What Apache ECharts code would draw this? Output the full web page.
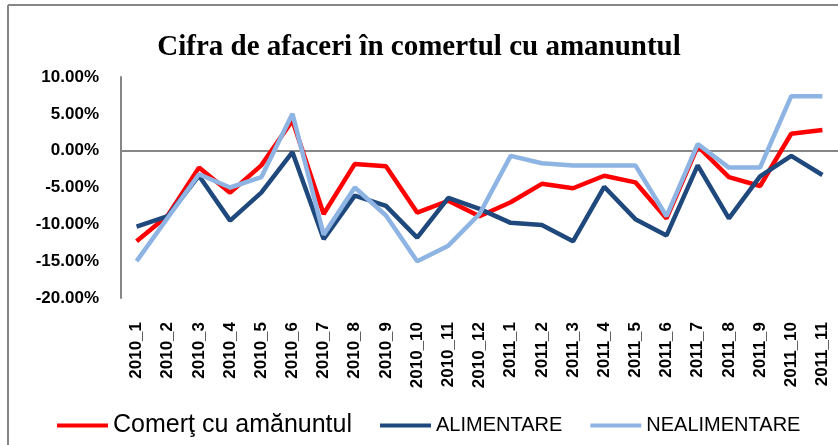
<!DOCTYPE html>
<html style="height: 100%">

<head>
  <meta charset="utf-8" />
  <title>Cifra de afaceri</title>
  <script src="https://cdn.jsdelivr.net/npm/echarts@6/dist/echarts.min.js"></script>
</head>

<body style="height: 100%; margin: 0; overflow: hidden; background: #fff">
  <div id="container" style="width: 838px; height: 445px"></div>
  <script>
    // luni
    var categories = [
      "2010_1", "2010_2", "2010_3", "2010_4", "2010_5", "2010_6", "2010_7", "2010_8",
      "2010_9", "2010_10", "2010_11", "2010_12", "2011_1", "2011_2", "2011_3", "2011_4",
      "2011_5", "2011_6", "2011_7", "2011_8", "2011_9", "2011_10", "2011_11"
    ];
    // valori in procente
    var comert = [-12.3, -8.8, -2.3, -5.7, -2.0, 4.1, -8.6, -1.8, -2.1, -8.4, -6.8, -8.9,
      -7.0, -4.5, -5.1, -3.4, -4.3, -9.2, 0.6, -3.6, -4.8, 2.3, 2.8];
    var alimentare = [-10.3, -8.9, -3.4, -9.5, -5.7, -0.2, -12.0, -6.1, -7.5, -11.8, -6.4, -7.9,
      -9.8, -10.1, -12.3, -4.9, -9.3, -11.5, -2.0, -9.2, -3.5, -0.7, -3.3];
    var nealimentare = [-15.0, -9.1, -3.2, -5.0, -3.6, 5.0, -11.4, -5.0, -8.8, -15.0, -12.9, -8.6,
      -0.7, -1.7, -2.0, -2.0, -2.0, -8.9, 0.9, -2.3, -2.3, 7.4, 7.4];
    var yTicks = { min: -20, max: 10, step: 5 };

    var myChart = echarts.init(document.getElementById("container"), null, { renderer: "canvas" });
    var gray = "#868686";
    var labelFont = "'Liberation Sans', Arial, sans-serif";

    var option = {
      backgroundColor: "#fff",
      animation: false,
      title: {
        text: "Cifra de afaceri în comertul cu amanuntul",
        left: "center",
        top: 28,
        textStyle: {
          fontFamily: "'Liberation Serif', 'Times New Roman', serif",
          fontWeight: "bold",
          fontSize: 29,
          color: "#000"
        }
      },
      // rama graficului (doar stanga si sus se vad)
      graphic: [
        { type: "line", shape: { x1: 8, y1: 5, x2: 8, y2: 445 }, style: { stroke: gray, lineWidth: 2 } },
        { type: "line", shape: { x1: 8, y1: 5, x2: 838, y2: 5 }, style: { stroke: gray, lineWidth: 2 } }
      ],
      legend: {
        left: 52,
        top: 408,
        icon: "rect",
        itemWidth: 51,
        itemHeight: 4,
        itemGap: 28,
        data: [
          { name: "Comerţ cu amănuntul", textStyle: { fontSize: 25 } },
          { name: "ALIMENTARE", textStyle: { fontSize: 20 } },
          { name: "NEALIMENTARE", textStyle: { fontSize: 20 } }
        ],
        textStyle: { fontFamily: labelFont, color: "#000" }
      },
      grid: { left: 121, right: -9, top: 77, bottom: 147, containLabel: false },
      xAxis: {
        type: "category",
        data: categories,
        axisLine: { show: false },
        axisTick: { show: false },
        axisLabel: {
          rotate: 90,
          margin: 24,
          interval: 0,
          fontFamily: labelFont,
          fontWeight: "bold",
          fontSize: 17,
          color: "#000"
        }
      },
      yAxis: {
        type: "value",
        min: yTicks.min,
        max: yTicks.max,
        interval: yTicks.step,
        axisLine: { show: true, lineStyle: { color: gray, width: 2 } },
        axisTick: { show: false },
        // doar linia de 0 este vizibila
        splitLine: {
          show: true,
          lineStyle: {
            width: 2,
            color: ["rgba(0,0,0,0)", "rgba(0,0,0,0)", "rgba(0,0,0,0)", "rgba(0,0,0,0)", gray, "rgba(0,0,0,0)", "rgba(0,0,0,0)"]
          }
        },
        axisLabel: {
          margin: 22,
          fontFamily: labelFont,
          fontWeight: "bold",
          fontSize: 17,
          color: "#000",
          formatter: function (v) { return v.toFixed(2) + "%"; }
        }
      },
      series: [
        {
          name: "Comerţ cu amănuntul",
          type: "line",
          data: comert,
          symbol: "none",
          color: "#FF0000",
          lineStyle: { width: 4.5, color: "#FF0000" }
        },
        {
          name: "ALIMENTARE",
          type: "line",
          data: alimentare,
          symbol: "none",
          color: "#1F497D",
          lineStyle: { width: 4.5, color: "#1F497D" }
        },
        {
          name: "NEALIMENTARE",
          type: "line",
          data: nealimentare,
          symbol: "none",
          color: "#8EB4E3",
          lineStyle: { width: 4.5, color: "#8EB4E3" }
        }
      ]
    };
    myChart.setOption(option);
  </script>
</body>

</html>
